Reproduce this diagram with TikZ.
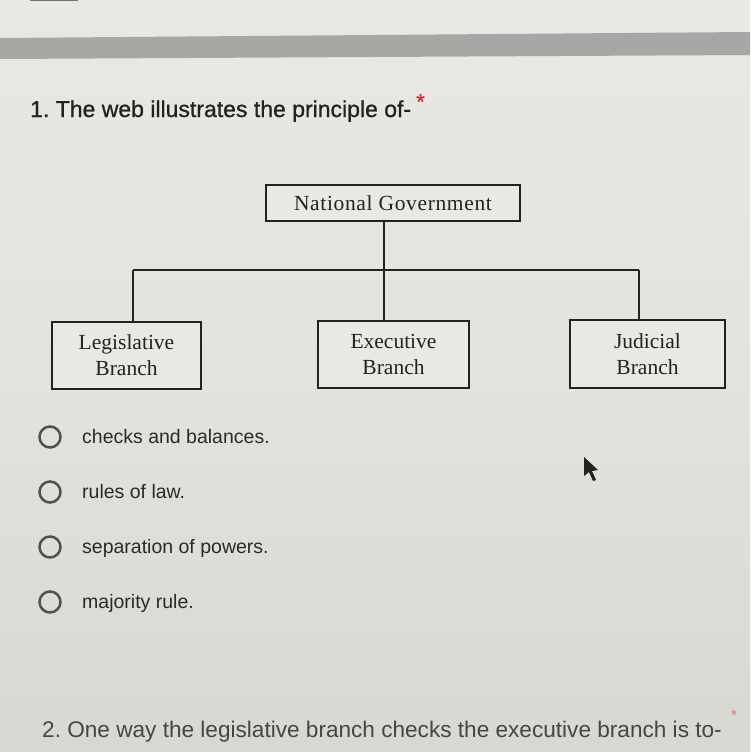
\documentclass[tikz,border=0pt]{standalone}
\usepackage{fontspec}
\setmainfont{Liberation Serif}
\newfontfamily\ui{Liberation Sans}
\newfontfamily\uibold[FakeBold=0.9]{Liberation Sans}
\newfontfamily\natfont[LetterSpace=3]{Liberation Serif}
\definecolor{bgtop}{HTML}{EAE8E4}
\definecolor{bgmid}{HTML}{E4E2DE}
\definecolor{bgbot}{HTML}{D9D7D2}
\definecolor{band}{HTML}{A8A7A5}
\definecolor{ink}{HTML}{222222}
\definecolor{txt}{HTML}{2A2A2A}
\definecolor{txtgray}{HTML}{454545}
\definecolor{radio}{HTML}{505050}
\definecolor{req}{HTML}{D93025}
\tikzset{
  orgbox/.style={draw=ink, line width=1.1pt, fill=bgtop, inner sep=0pt, align=center,
    text=ink, font=\fontsize{21.5}{26}\selectfont},
  conn/.style={draw=ink, line width=1.1pt},
  radiobtn/.style={circle, draw=radio, line width=2.5pt, minimum size=21pt, inner sep=0pt},
  opttext/.style={anchor=base west, inner sep=0pt, text=txt, font=\ui\fontsize{19.5}{23}\selectfont},
  qtext/.style={anchor=base west, inner sep=0pt, text=ink, font=\uibold\fontsize{23}{27}\selectfont},
  q2text/.style={anchor=base west, inner sep=0pt, text=txtgray, font=\ui\fontsize{22.6}{27}\selectfont},
  star/.style={anchor=north west, inner sep=0pt, text=req}
}
\begin{document}
\frenchspacing
\begin{tikzpicture}[x=1pt, y=-1pt]
\useasboundingbox (0,0) rectangle (750,752);
% background
\shade[top color=bgtop, bottom color=bgbot, middle color=bgmid] (0,0) rectangle (750,752);
\fill[band] (0,38) -- (750,32) -- (750,55) -- (0,59) -- cycle;
\fill[black!55] (30,0) rectangle (78,1.5);
% question 1
\node[qtext] (q1) at (30,117) {1. The web illustrates the principle of-};
\node[star, font=\uibold\fontsize{22}{22}\selectfont] (s1) at (416,94) {*};
% org chart
\node[orgbox, minimum width=254pt, minimum height=36pt, font=\natfont\fontsize{21.5}{26}\selectfont] (nat) at (393,203) {National Government};
\node[orgbox, minimum width=149pt, minimum height=67pt] (leg) at (126.5,355.5) {Legislative\\Branch};
\node[orgbox, minimum width=151pt, minimum height=67pt] (exe) at (393.5,354.5) {Executive\\Branch};
\node[orgbox, minimum width=155pt, minimum height=68pt] (jud) at (647.5,354) {Judicial\\Branch};
\coordinate (busL) at (133,270);
\coordinate (busM) at (384,270);
\coordinate (busR) at (639,270);
\draw[conn] (nat.south -| busM) -- (busM);
\draw[conn] (busL) -- (busR);
\draw[conn] (busL) -- (busL |- leg.north);
\draw[conn] (busM) -- (busM |- exe.north);
\draw[conn] (busR) -- (busR |- jud.north);
% options
\node[radiobtn] (r1) at (50,437) {};
\node[radiobtn] (r2) at (50,492) {};
\node[radiobtn] (r3) at (50,547) {};
\node[radiobtn] (r4) at (50,602) {};
\node[opttext] (o1) at (82,443) {checks and balances.};
\node[opttext] (o2) at (82,498) {rules of law.};
\node[opttext] (o3) at (82,553) {separation of powers.};
\node[opttext] (o4) at (82,608) {majority rule.};
% mouse pointer
\fill[ink] (584,457) -- (584,476) -- (589,472) -- (593,481) -- (596,480) -- (592,471) -- (598,470) -- cycle;
% question 2
\node[q2text] (q2) at (42,737) {2. One way the legislative branch checks the executive branch is to-};
\node[star, text=req!70, font=\ui\fontsize{15}{15}\selectfont] (s2) at (731,710) {*};
\end{tikzpicture}
\end{document}
